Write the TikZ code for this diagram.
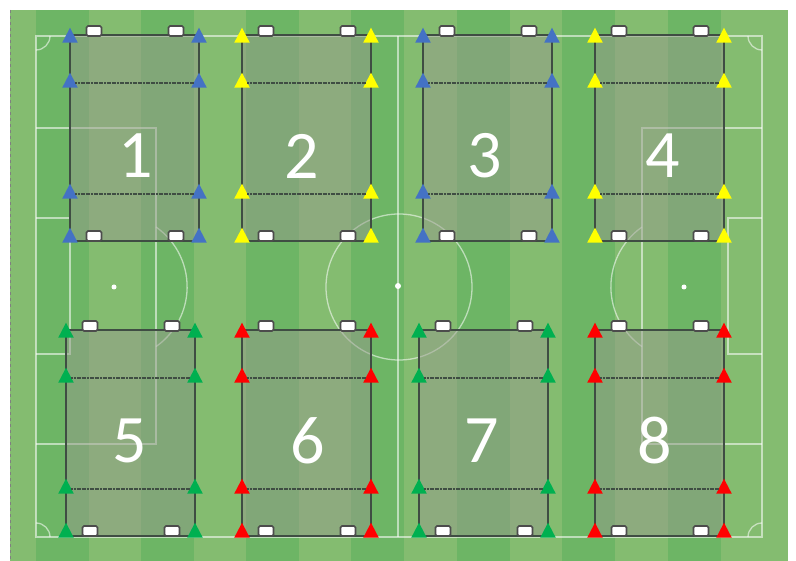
\documentclass[tikz,border=0pt]{standalone}
\usepackage{fontspec}
\setsansfont{Carlito}
\usetikzlibrary{shapes.geometric}
\definecolor{pitchlight}{HTML}{84BC70}
\definecolor{pitchdark}{HTML}{6DB565}
\definecolor{gridfill}{HTML}{969B8C}
\definecolor{gridline}{HTML}{3F4D43}
\definecolor{conedblue}{HTML}{4472C4}
\definecolor{coneyellow}{HTML}{FFFF00}
\definecolor{conegreen}{HTML}{00B050}
\definecolor{conered}{HTML}{FF0000}

\begin{document}
\begin{tikzpicture}[
        x=1pt, y=-1pt,
        every node/.style={align=center, outer sep=0pt},
        grid/.style={rectangle, draw=gridline, line width=1.6pt,
                     fill=gridfill, fill opacity=0.5,
                     minimum width=129pt, minimum height=206pt,
                     inner sep=0pt, anchor=north west},
        cone/.style={isosceles triangle, shape border rotate=90,
                     isosceles triangle apex angle=55,
                     minimum height=15pt, inner sep=0pt},
        goalbox/.style={rectangle, rounded corners=1.5pt, fill=white,
                        draw=gray!60!black, line width=1.6pt,
                        minimum width=15pt, minimum height=10pt, inner sep=0pt},
        num/.style={text=white, font=\fontsize{68}{68}\selectfont\sffamily},
        pitchline/.style={draw=white, draw opacity=0.55, line width=1.3pt},
        dashline/.style={draw=gridline, line width=1.5pt, dash pattern=on 2pt off 0.6pt}
    ]
        \useasboundingbox (0, 0) rectangle (796, 561);

        % --- Campo ---
        \fill[pitchlight] (10, 10) rectangle (788, 561);
        \foreach \sx in {36, 141, 246, 351, 457, 562, 668}
            \fill[pitchdark] (\sx, 10) rectangle (\sx+53, 561);
        \draw[gray, dashed] (10, 10) -- (10, 561);
        \draw[white, dashed] (788, 10) -- (788, 561);

        % --- Lineas ---
        \draw[pitchline] (36, 36) rectangle (762, 537);
        \draw[pitchline] (398, 36) -- (398, 537);
        \draw[pitchline] (399, 287) circle [radius=73];
        \draw[pitchline] (36, 128) -| (156, 444) -- (36, 444);
        \draw[pitchline] (762, 128) -| (642, 444) -- (762, 444);
        \draw[pitchline] (36, 218) -| (70, 354) -- (36, 354);
        \draw[pitchline] (762, 218) -| (728, 354) -- (762, 354);
        \draw[pitchline] (156, 227) arc [start angle=-55, end angle=55, radius=73];
        \draw[pitchline] (642, 227) arc [start angle=235, end angle=125, radius=73];
        \draw[pitchline] (36, 50) arc [start angle=90, end angle=0, radius=14];
        \draw[pitchline] (748, 36) arc [start angle=180, end angle=90, radius=14];
        \draw[pitchline] (36, 523) arc [start angle=-90, end angle=0, radius=14];
        \draw[pitchline] (748, 537) arc [start angle=180, end angle=270, radius=14];
        \fill[white] (398, 286) circle [radius=3];
        \fill[white] (114, 287) circle [radius=2.5];
        \fill[white] (684, 287) circle [radius=2.5];

        % --- Cuadros ---
        \foreach \n/\gx/\gy/\col/\nx/\ny in {1/70/35/conedblue/136/156, 2/242/35/coneyellow/302/156,
                3/423/35/conedblue/485/156, 4/595/35/coneyellow/663/156,
                5/66/330/conegreen/130/441, 6/242/330/conered/308/441,
                7/419/330/conegreen/482/441, 8/595/330/conered/655/441} {
            \node[grid] (grid\n) at (\gx, \gy) {};

            \node[cone, fill=\col] (coneTL\n) at (\gx, \gy+3) {};
            \node[cone, fill=\col] (coneTR\n) at (\gx+129, \gy+3) {};
            \node[cone, fill=\col] (coneUL\n) at (\gx, \gy+48) {};
            \node[cone, fill=\col] (coneUR\n) at (\gx+129, \gy+48) {};
            \node[cone, fill=\col] (coneDL\n) at (\gx, \gy+159) {};
            \node[cone, fill=\col] (coneDR\n) at (\gx+129, \gy+159) {};
            \node[cone, fill=\col] (coneBL\n) at (\gx, \gy+203) {};
            \node[cone, fill=\col] (coneBR\n) at (\gx+129, \gy+203) {};
            \draw[dashline] (coneUL\n) -- (coneUR\n);
            \draw[dashline] (coneDL\n) -- (coneDR\n);

            \node[goalbox] (goalTL\n) at (\gx+24, \gy-4) {};
            \node[goalbox] (goalTR\n) at (\gx+106, \gy-4) {};
            \node[goalbox] (goalBL\n) at (\gx+24, \gy+201) {};
            \node[goalbox] (goalBR\n) at (\gx+106, \gy+201) {};

            \node[num] (num\n) at (\nx, \ny) {\n};
        }
    \end{tikzpicture}
\end{document}
